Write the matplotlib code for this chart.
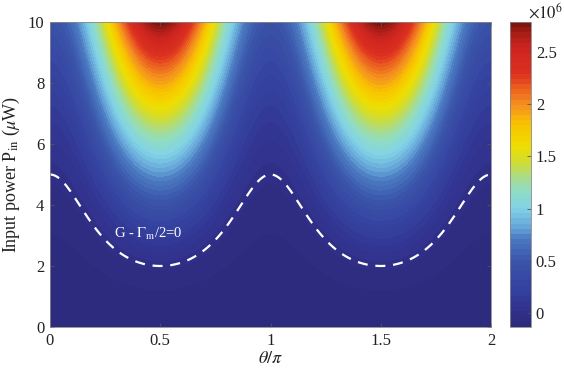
import numpy as np
import matplotlib
matplotlib.use("Agg")
import matplotlib.pyplot as plt
from matplotlib.colors import LinearSegmentedColormap

plt.rcParams['font.family'] = ['Liberation Serif', 'DejaVu Serif']
plt.rcParams['mathtext.fontset'] = 'stix'

# ---- values ----
theta_ticks = [0, 0.5, 1, 1.5, 2]
power_ticks = [0, 2, 4, 6, 8, 10]
cbar_ticks = [0, 0.5, 1, 1.5, 2, 2.5]
cbar_ticklabels = ['0', '0.5', '1', '1.5', '2', '2.5']
threshold_power_max = 5.0     # threshold at theta = 0, pi, 2pi (uW)
threshold_power_min = 2.0     # threshold at theta = pi/2, 3pi/2 (uW)
z_top = 2.784                 # x1e6, colour-scale top (at theta=pi/2, P=10)
z_bottom = -0.131             # x1e6, colour-scale bottom
growth_exponent = 1.3
below_exponent = 0.5
label_text = r'G - $\Gamma_{\rm m}$/2=0'

# colormap anchors (value x1e6, colour)
cmap_values = [-0.131, 0.0, 0.25, 0.5, 0.7, 0.85, 1.0, 1.15, 1.3, 1.45, 1.6,
               1.8, 2.0, 2.15, 2.3, 2.55, 2.7, 2.784]
cmap_colors = ['#2b2a7a', '#30308a', '#3542a0', '#3b55aa', '#4a78c0', '#6aaedc',
               '#82d2e6', '#8edcc8', '#a8dc8c', '#d0dc30', '#f0de00', '#f8c400',
               '#f49020', '#ec6020', '#dc3020', '#cc2420', '#a01c14', '#6e1410']

# ---- field ----
theta = np.linspace(0, 2, 401)
power = np.linspace(0, 10, 301)
T, Pm = np.meshgrid(theta, power)
b = threshold_power_max / threshold_power_min - 1.0
gain = 1.0 + b * np.sin(np.pi * T) ** 2
xr = Pm * gain / threshold_power_max          # ratio to threshold
x_top = 10 * (1 + b) / threshold_power_max
a = z_top / (x_top - 1) ** growth_exponent
Z = np.where(xr >= 1, a * np.clip(xr - 1, 0, None) ** growth_exponent,
             z_bottom * np.clip(1 - xr, 0, None) ** below_exponent) * 1e6

p_threshold = threshold_power_max / (1.0 + b * np.sin(np.pi * theta) ** 2)

vmin, vmax = z_bottom * 1e6, z_top * 1e6
norm_pos = [(v - z_bottom) / (z_top - z_bottom) for v in cmap_values]
cmap = LinearSegmentedColormap.from_list('ref', list(zip(norm_pos, cmap_colors)), N=256)

fig = plt.figure(figsize=(5.64, 3.71), dpi=100)
W, H = 564, 371
ax = fig.add_axes([50 / W, 1 - 327 / H, 441 / W, 305 / H])
cax = fig.add_axes([510 / W, 1 - 327 / H, 21 / W, 305 / H])

levels = np.linspace(vmin, vmax, 60)
cf = ax.contourf(T, Pm, Z, levels=levels, cmap=cmap, vmin=vmin, vmax=vmax, extend='both')
ax.plot(theta, p_threshold, color='white', lw=1.6, dashes=(4.5, 3.5))
ax.text(0.29, 3.05, label_text, color='white', fontsize=10.5, ha='left', va='center')

ax.set_xlim(0, 2)
ax.set_ylim(0, 10)
ax.set_xticks(theta_ticks)
ax.set_xticklabels(['0', '0.5', '1', '1.5', '2'])
ax.set_yticks(power_ticks)
ax.tick_params(direction='in', length=3, width=0.6, color='#555555', labelsize=12,
               top=True, right=True, labelcolor='#222222', pad=4)
for s in ax.spines.values():
    s.set_color('#888888')
    s.set_linewidth(0.6)
ax.set_xlabel(r'$\theta/\pi$', fontsize=13, labelpad=1, color='#222222')
ax.set_ylabel(r'Input power P$_{\rm in}$ ($\mu$W)', fontsize=13, labelpad=4, color='#222222')

sm = matplotlib.cm.ScalarMappable(norm=matplotlib.colors.Normalize(vmin, vmax), cmap=cmap)
cb = fig.colorbar(sm, cax=cax, boundaries=levels)
cb.set_ticks([t * 1e6 for t in cbar_ticks])
cb.set_ticklabels(cbar_ticklabels)
cb.ax.tick_params(direction='in', length=3, width=0.6, color='#555555', labelsize=12,
                  labelcolor='#222222')
cb.outline.set_edgecolor('#888888')
cb.outline.set_linewidth(0.6)
fig.text(528 / W, 1 - 12 / H, r'$\times 10^{6}$', fontsize=12, ha='left', va='center', color='#222222')

fig.savefig('out.png', dpi=100)
